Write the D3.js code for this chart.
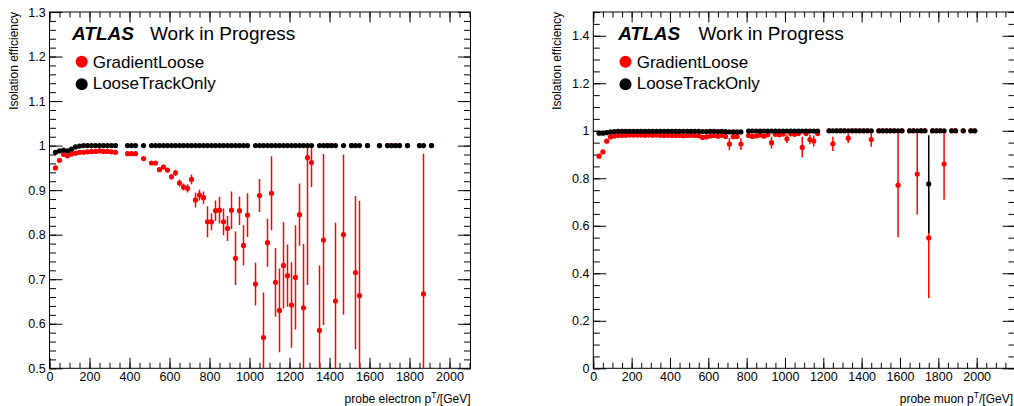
<!DOCTYPE html>
<html>
<head>
<meta charset="utf-8">
<script src="https://cdn.jsdelivr.net/npm/d3@7"></script>
<style>
  body { margin: 0; background: #fff; }
  svg text { font-family: "Liberation Sans", Arial, Helvetica, sans-serif; fill: #000; }
</style>
</head>
<body>
<svg id="chart" width="1014" height="406"></svg>
<script>
'use strict';

// ---- electron panel data (bin centres in GeV)
const elecPt = [30, 50, 70, 90, 110, 130, 150, 170, 190, 210, 230, 250, 270, 290, 310, 330,
  390, 410, 430, 470,
  510, 530, 550, 570, 590, 610, 630, 650, 670, 690, 710, 730, 750, 770, 790, 810, 830, 850, 870, 890, 910, 930, 950, 970, 990,
  1030, 1050, 1070, 1090, 1110, 1130, 1150, 1170, 1190, 1210, 1230, 1250, 1270, 1290, 1310,
  1350, 1370, 1390, 1410, 1430,
  1470, 1510, 1530, 1550, 1590, 1650, 1690, 1710, 1730, 1750, 1790, 1850, 1870, 1910];

const elecGradEff = [0.950, 0.967, 0.980, 0.977, 0.981, 0.983, 0.985, 0.985, 0.986, 0.987, 0.987, 0.988, 0.987, 0.987, 0.986, 0.985,
  0.982, 0.982, 0.982, 0.971,
  0.961, 0.961, 0.946, 0.952, 0.945, 0.930, 0.939, 0.916, 0.907, 0.904, 0.924, 0.878, 0.889, 0.883, 0.829, 0.829, 0.854, 0.855, 0.829, 0.814, 0.855, 0.747, 0.854, 0.776, 0.844,
  0.689, 0.888, 0.569, 0.782, 0.893, 0.693, 0.630, 0.731, 0.708, 0.642, 0.704, 0.845, 0.636, 0.973, 0.962,
  0.585, 0.788, 1, 1, 0.651,
  0.800, 1, 0.715, 0.663, 1, 1, 1, 1, 1, 1, 1, 1, 0.667, 1];

const elecGradErrLo = [0.003, 0.003, 0.002, 0.002, 0.002, 0.002, 0.002, 0.002, 0.002, 0.002, 0.002, 0.002, 0.002, 0.002, 0.002, 0.002,
  0.003, 0.003, 0.003, 0.004,
  0.004, 0.004, 0.005, 0.005, 0.005, 0.006, 0.007, 0.008, 0.008, 0.009, 0.011, 0.017, 0.012, 0.014, 0.035, 0.019, 0.023, 0.030, 0.030, 0.028, 0.042, 0.060, 0.032, 0.045, 0.049,
  0.048, 0.037, 0.120, 0.054, 0.083, 0.077, 0.094, 0.097, 0.070, 0.096, 0.117, 0.070, 0.160, 0.286, 0.055,
  0.150, 0.191, 0, 0, 0.200,
  0.179, 0, 0.173, 0.200, 0, 0, 0, 0, 0, 0, 0, 0, 0.300, 0];

const elecGradErrHi = [0.003, 0.003, 0.002, 0.002, 0.002, 0.002, 0.002, 0.002, 0.002, 0.002, 0.002, 0.002, 0.002, 0.002, 0.002, 0.002,
  0.003, 0.003, 0.003, 0.004,
  0.004, 0.004, 0.005, 0.005, 0.005, 0.006, 0.007, 0.008, 0.008, 0.009, 0.011, 0.017, 0.012, 0.014, 0.035, 0.019, 0.023, 0.030, 0.030, 0.028, 0.042, 0.060, 0.032, 0.045, 0.049,
  0.048, 0.037, 0.101, 0.054, 0.083, 0.077, 0.094, 0.097, 0.070, 0.096, 0.117, 0.070, 0.143, 0.024, 0.032,
  0.146, 0.193, 0, 0, 0.176,
  0.180, 0, 0.172, 0.213, 0, 0, 0, 0, 0, 0, 0, 0, 0.315, 0];

const elecTrackEff = [0.985, 0.988, 0.990, 0.988, 0.992, 0.997, 0.999, 1, 1, 1, 1, 1, 1, 1, 1, 1,
  1, 1, 1, 1,
  1, 1, 1, 1, 1, 1, 1, 1, 1, 1, 1, 1, 1, 1, 1, 1, 1, 1, 1, 1, 1, 1, 1, 1, 1,
  1, 1, 1, 1, 1, 1, 1, 1, 1, 1, 1, 1, 1, 1, 1,
  1, 1, 1, 1, 1,
  1, 1, 1, 1, 1, 1, 1, 1, 1, 1, 1, 1, 1, 1];

// ---- muon panel data
const muonPt = [30, 50, 70, 90, 110, 130, 150, 170, 190, 210, 230, 250, 270, 290, 310, 330, 350, 370, 390,
  410, 430, 450, 470, 490, 510, 530, 550, 570, 590, 610, 630, 650, 670, 690, 710, 730, 750, 770,
  810, 830, 850, 870, 890, 910, 930, 950, 970, 990, 1010, 1030, 1050, 1070, 1090, 1110, 1130, 1150, 1170,
  1230, 1250, 1270, 1290, 1310, 1330, 1350, 1370, 1390, 1410, 1430, 1450,
  1490, 1510, 1530, 1550, 1570, 1590, 1610,
  1650, 1670, 1690, 1710, 1730,
  1750,
  1770, 1790, 1810, 1830,
  1870, 1890, 1930, 1970, 1990];

const muonGradEff = [0.893, 0.911, 0.956, 0.974, 0.978, 0.980, 0.981, 0.981, 0.982, 0.982, 0.982, 0.982, 0.981, 0.982, 0.981, 0.982, 0.981, 0.980, 0.981,
  0.980, 0.980, 0.981, 0.979, 0.980, 0.981, 0.980, 0.979, 0.972, 0.974, 0.978, 0.980, 0.977, 0.981, 0.976, 0.944, 0.975, 0.976, 0.944,
  0.980, 0.976, 0.978, 0.982, 0.977, 0.983, 0.950, 0.985, 0.983, 0.986, 0.966, 0.987, 0.985, 0.988, 0.930, 0.988, 0.963, 0.957, 0.988,
  1, 0.945, 1, 1, 1, 0.969, 1, 1, 1, 1, 1, 0.963,
  1, 1, 1, 1, 1, 0.771, 1,
  1, 1, 0.818, 1, 1,
  0.549,
  1, 1, 1, 0.860,
  1, 1, 1, 1, 1];

const muonGradErrLo = [0.006, 0.005, 0.004, 0.003, 0.002, 0.002, 0.002, 0.002, 0.002, 0.002, 0.002, 0.002, 0.002, 0.002, 0.002, 0.002, 0.002, 0.002, 0.002,
  0.002, 0.002, 0.002, 0.002, 0.002, 0.002, 0.002, 0.003, 0.004, 0.003, 0.003, 0.003, 0.003, 0.003, 0.004, 0.026, 0.004, 0.004, 0.025,
  0.004, 0.005, 0.005, 0.004, 0.005, 0.004, 0.025, 0.005, 0.006, 0.005, 0.018, 0.006, 0.007, 0.006, 0.043, 0.007, 0.020, 0.023, 0.008,
  0, 0.030, 0, 0, 0, 0.020, 0, 0, 0, 0, 0, 0.030,
  0, 0, 0, 0, 0, 0.219, 0,
  0, 0, 0.171, 0, 0,
  0.253,
  0, 0, 0, 0.150,
  0, 0, 0, 0, 0];

const muonGradErrHi = [0.006, 0.005, 0.004, 0.003, 0.002, 0.002, 0.002, 0.002, 0.002, 0.002, 0.002, 0.002, 0.002, 0.002, 0.002, 0.002, 0.002, 0.002, 0.002,
  0.002, 0.002, 0.002, 0.002, 0.002, 0.002, 0.002, 0.003, 0.004, 0.003, 0.003, 0.003, 0.003, 0.003, 0.004, 0.026, 0.004, 0.004, 0.025,
  0.004, 0.005, 0.005, 0.004, 0.005, 0.004, 0.025, 0.005, 0.006, 0.005, 0.018, 0.006, 0.007, 0.006, 0.045, 0.007, 0.020, 0.023, 0.008,
  0, 0.030, 0, 0, 0, 0.020, 0, 0, 0, 0, 0, 0.028,
  0, 0, 0, 0, 0, 0.220, 0,
  0, 0, 0.173, 0, 0,
  0.190,
  0, 0, 0, 0.131,
  0, 0, 0, 0, 0];

const muonTrackEff = [0.990, 0.990, 0.992, 0.995, 0.997, 0.998, 0.998, 0.998, 0.998, 0.998, 0.998, 0.998, 0.998, 0.998, 0.998, 0.998, 0.998, 0.998, 0.998,
  0.998, 0.998, 0.998, 0.998, 0.998, 0.998, 0.998, 0.998, 0.997, 0.997, 0.998, 0.998, 0.997, 0.998, 0.996, 0.995, 0.995, 0.995, 0.995,
  0.999, 0.999, 0.999, 0.999, 0.999, 0.999, 0.999, 0.999, 0.999, 0.999, 0.999, 0.999, 0.999, 0.999, 0.999, 0.999, 0.999, 0.999, 0.999,
  1, 1, 1, 1, 1, 1, 1, 1, 1, 1, 1, 1,
  1, 1, 1, 1, 1, 1, 1,
  1, 1, 1, 1, 1,
  0.776,
  1, 1, 1, 1,
  1, 1, 1, 1, 1];

// only the 1750 GeV bin has a visible LooseTrackOnly error
const muonTrackErrPt = [1750];
const muonTrackErrLo = [0.206];
const muonTrackErrHi = [0.205];

// ---- axis ticks
const elecXTicks = [0, 200, 400, 600, 800, 1000, 1200, 1400, 1600, 1800, 2000];
const elecYTicks = [0.5, 0.6, 0.7, 0.8, 0.9, 1, 1.1, 1.2, 1.3];
const muonXTicks = [0, 200, 400, 600, 800, 1000, 1200, 1400, 1600, 1800, 2000];
const muonYTicks = [0, 0.2, 0.4, 0.6, 0.8, 1, 1.2, 1.4];

const seriesNames = ['GradientLoose', 'LooseTrackOnly'];
const seriesColors = ['#ff0000', '#000000'];

const panels = [
  {
    left: 49.5, right: 470.5, top: 12, bottom: 368.3,
    xMax: 2105, yMin: 0.5, yMax: 1.3,
    xTicks: elecXTicks, yTicks: elecYTicks, yMinorStep: 0.02,
    yTitleX: 18, xTitle: 'probe electron p', xTitleX: 470.5,
    atlasX: 72, workX: 150, legX: 81.7, legTextX: 92.7,
    series: [
      { pt: elecPt, eff: elecGradEff, lo: elecGradErrLo, hi: elecGradErrHi },
      { pt: elecPt, eff: elecTrackEff }
    ]
  },
  {
    left: 593.3, right: 1015, top: 12, bottom: 368.3,
    xMax: 2200, yMin: 0, yMax: 1.5,
    xTicks: muonXTicks, yTicks: muonYTicks, yMinorStep: 0.05,
    yTitleX: 561, xTitle: 'probe muon p', xTitleX: 1013,
    atlasX: 618.3, workX: 698.5, legX: 625.5, legTextX: 636.7,
    series: [
      { pt: muonPt, eff: muonGradEff, lo: muonGradErrLo, hi: muonGradErrHi },
      { pt: muonPt, eff: muonTrackEff, errPt: muonTrackErrPt, lo: muonTrackErrLo, hi: muonTrackErrHi }
    ]
  }
];

const svg = d3.select('#chart');
const fmt = d3.format('~g');

function styleAxis(sel) {
  sel.select('.domain').remove();
  sel.selectAll('line').attr('stroke', '#000').attr('stroke-width', 1);
  sel.selectAll('text').style('font-size', '12.5px').attr('fill', '#000');
}

panels.forEach(function(p, pi) {

  let x = d3.scaleLinear().domain([0, p.xMax]).range([p.left, p.right]);
  let y = d3.scaleLinear().domain([p.yMin, p.yMax]).range([p.bottom, p.top]);

  let xMinor = d3.range(0, p.xMax, 50);
  let yMinor = d3.range(p.yMin, p.yMax + 1e-9, p.yMinorStep);

  //frame
  svg.append('rect')
      .attr('x', p.left).attr('y', p.top)
      .attr('width', p.right - p.left).attr('height', p.bottom - p.top)
      .attr('fill', 'none').attr('stroke', '#000').attr('stroke-width', 1);

  //axes, ticks pointing inside the frame
  svg.append('g').attr('transform', 'translate(0,' + p.bottom + ')')
      .call(d3.axisBottom(x).tickValues(p.xTicks).tickSize(-10.5).tickPadding(3.5).tickFormat(fmt))
      .call(styleAxis);
  svg.append('g').attr('transform', 'translate(0,' + p.bottom + ')')
      .call(d3.axisBottom(x).tickValues(xMinor).tickSize(-5.5).tickFormat(''))
      .call(styleAxis);
  svg.append('g').attr('transform', 'translate(0,' + p.top + ')')
      .call(d3.axisTop(x).tickValues(p.xTicks).tickSize(-10.5).tickFormat(''))
      .call(styleAxis);
  svg.append('g').attr('transform', 'translate(0,' + p.top + ')')
      .call(d3.axisTop(x).tickValues(xMinor).tickSize(-5.5).tickFormat(''))
      .call(styleAxis);

  svg.append('g').attr('transform', 'translate(' + p.left + ',0)')
      .call(d3.axisLeft(y).tickValues(p.yTicks).tickSize(-13).tickPadding(3.8).tickFormat(fmt))
      .call(styleAxis);
  svg.append('g').attr('transform', 'translate(' + p.left + ',0)')
      .call(d3.axisLeft(y).tickValues(yMinor).tickSize(-6.5).tickFormat(''))
      .call(styleAxis);
  svg.append('g').attr('transform', 'translate(' + p.right + ',0)')
      .call(d3.axisRight(y).tickValues(p.yTicks).tickSize(-12.5).tickFormat(''))
      .call(styleAxis);
  svg.append('g').attr('transform', 'translate(' + p.right + ',0)')
      .call(d3.axisRight(y).tickValues(yMinor).tickSize(-6.5).tickFormat(''))
      .call(styleAxis);

  //titles
  svg.append('text')
      .attr('transform', 'translate(' + p.yTitleX + ',' + p.top + ') rotate(-90)')
      .attr('text-anchor', 'end')
      .style('font-size', '12px')
      .text('Isolation efficiency');

  let xt = svg.append('text')
      .attr('x', p.xTitleX).attr('y', 402.5)
      .attr('text-anchor', 'end')
      .style('font-size', '12px');
  xt.append('tspan').text(p.xTitle);
  xt.append('tspan').attr('dy', -5).style('font-size', '8.5px').text('T');
  xt.append('tspan').attr('dy', 5).text('/[GeV]');

  //data
  let clipId = 'clip' + pi;
  svg.append('clipPath').attr('id', clipId)
      .append('rect')
      .attr('x', p.left).attr('y', p.top)
      .attr('width', p.right - p.left).attr('height', p.bottom - p.top);

  let plot = svg.append('g').attr('clip-path', 'url(#' + clipId + ')');

  p.series.forEach(function(s, si) {
    let pts = s.pt.map((v, i) => ({ pt: v, eff: s.eff[i], lo: 0, hi: 0 }));
    if (s.errPt) {
      s.errPt.forEach(function(e, k) {
        let d = pts.find(q => q.pt === e);
        d.lo = s.lo[k];
        d.hi = s.hi[k];
      });
    } else if (s.lo) {
      pts.forEach(function(d, i) { d.lo = s.lo[i]; d.hi = s.hi[i]; });
    }

    plot.append('g')
        .selectAll('line')
        .data(pts.filter(d => d.lo > 0 || d.hi > 0))
        .enter()
        .append('line')
        .attr('x1', d => x(d.pt)).attr('x2', d => x(d.pt))
        .attr('y1', d => y(d.eff - d.lo)).attr('y2', d => y(d.eff + d.hi))
        .attr('stroke', seriesColors[si])
        .attr('stroke-width', 1.5);

    plot.append('g')
        .selectAll('circle')
        .data(pts)
        .enter()
        .append('circle')
        .attr('cx', d => x(d.pt))
        .attr('cy', d => y(d.eff))
        .attr('r', 2.6)
        .attr('fill', seriesColors[si]);
  });

  //ATLAS label
  svg.append('text')
      .attr('x', p.atlasX).attr('y', 40)
      .style('font-size', '19px').style('font-weight', 'bold').style('font-style', 'italic')
      .text('ATLAS');
  svg.append('text')
      .attr('x', p.workX).attr('y', 40)
      .style('font-size', '19px')
      .text('Work in Progress');

  //legend
  seriesNames.forEach(function(name, i) {
    svg.append('circle')
        .attr('cx', p.legX).attr('cy', 61.7 + i * 22.6)
        .attr('r', 6)
        .attr('fill', seriesColors[i]);
    svg.append('text')
        .attr('x', p.legTextX).attr('y', 67.8 + i * 20.7)
        .style('font-size', '17px')
        .text(name);
  });
});
</script>
</body>
</html>
